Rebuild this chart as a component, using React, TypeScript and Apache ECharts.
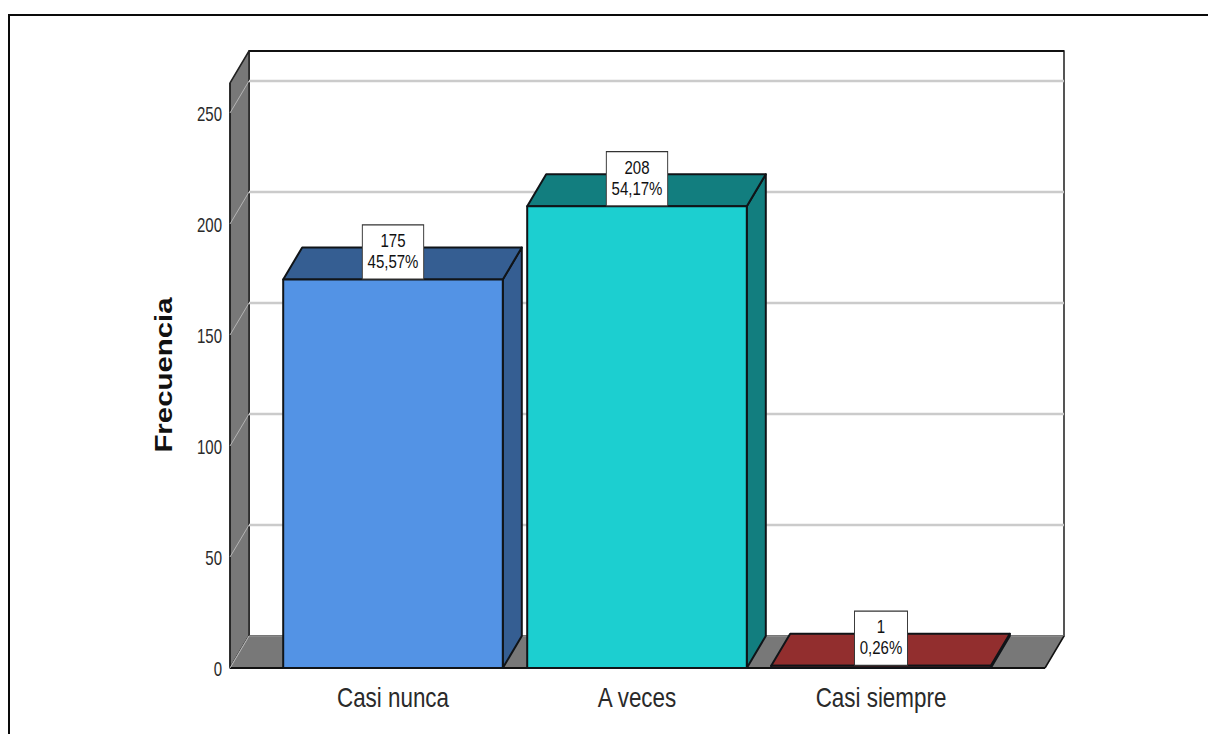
import React, { useEffect, useRef } from "react";
import * as echarts from "echarts";

const categories = ["Casi nunca", "A veces", "Casi siempre"];
const counts = [175, 208, 1];
const percents = [45.57, 54.17, 0.26];
const gridValues = [0, 50, 100, 150, 200, 250];
const valueTitle = "Frecuencia";
const frontColors = ["#5393E5", "#1CCFD0", "#922E2E"];
const shadeColors = ["#355E92", "#127E7F", "#922E2E"];

const SANS = '"Liberation Sans", Arial, sans-serif';
const DEPTH_X = 19;
const DEPTH_Y = -32;
const AXIS_OFFSET = 41;
const FRAME_RIGHT_GAP = 42;
const EDGE = "#101418";

const polygon = (points: number[][], fill: string, stroke = EDGE, lineWidth = 2) => ({
  type: "polygon",
  shape: { points },
  style: { fill, stroke, lineWidth, lineJoin: "round" },
});

const line = (a: number[], b: number[], stroke: string, lineWidth: number) => ({
  type: "line",
  shape: { x1: a[0], y1: a[1], x2: b[0], y2: b[1] },
  style: { stroke, lineWidth, fill: "none" },
});

// Walls and floor of the box that surrounds the columns.
const renderFrame = (params: any) => {
  const c = params.coordSys;
  const left = c.x - AXIS_OFFSET;
  const right = c.x + c.width + FRAME_RIGHT_GAP;
  const top = c.y;
  const bottom = c.y + c.height;
  return {
    type: "group",
    children: [
      polygon(
        [
          [left + DEPTH_X, top + DEPTH_Y],
          [right + DEPTH_X, top + DEPTH_Y],
          [right + DEPTH_X, bottom + DEPTH_Y],
          [left + DEPTH_X, bottom + DEPTH_Y],
        ],
        "#ffffff",
        "#555555",
        2
      ),
      line([left + DEPTH_X, top + DEPTH_Y], [right + DEPTH_X, top + DEPTH_Y], "#111111", 2),
      polygon(
        [
          [left, top],
          [left + DEPTH_X, top + DEPTH_Y],
          [left + DEPTH_X, bottom + DEPTH_Y],
          [left, bottom],
        ],
        "#787878",
        "#222222",
        1.5
      ),
      polygon(
        [
          [left, bottom],
          [left + DEPTH_X, bottom + DEPTH_Y],
          [right + DEPTH_X, bottom + DEPTH_Y],
          [right, bottom],
        ],
        "#787878",
        "#9a9a9a",
        1
      ),
      line([right, bottom], [right + DEPTH_X, bottom + DEPTH_Y], "#111111", 1.5),
      line([left, bottom], [right, bottom], "#111111", 2),
      line([left, top], [left, bottom], "#222222", 1.5),
    ],
  };
};

// One gridline per tick: across the back wall and down the side wall.
const renderGridLine = (params: any, api: any) => {
  const c = params.coordSys;
  const p = api.coord([0, api.value(1)]);
  const left = c.x - AXIS_OFFSET;
  const right = c.x + c.width + FRAME_RIGHT_GAP;
  const isFloor = api.value(1) === 0;
  const children: any[] = [line([left, p[1]], [left + DEPTH_X, p[1] + DEPTH_Y], "#b4b4b4", 1)];
  if (!isFloor) {
    children.push(
      line([left + DEPTH_X, p[1] + DEPTH_Y], [right + DEPTH_X, p[1] + DEPTH_Y], "#cbcbcb", 2.5)
    );
  }
  return { type: "group", children };
};

const renderColumn = (params: any, api: any) => {
  const i = params.dataIndex;
  const base = api.coord([api.value(0), 0]);
  const head = api.coord([api.value(0), api.value(1)]);
  const width = api.size([1, 0])[0] * 0.9;
  const x0 = base[0] - width / 2;
  const x1 = base[0] + width / 2;
  const yTop = head[1];
  const yBase = base[1];
  return {
    type: "group",
    children: [
      polygon(
        [
          [x1, yBase],
          [x1 + DEPTH_X, yBase + DEPTH_Y],
          [x1 + DEPTH_X, yTop + DEPTH_Y],
          [x1, yTop],
        ],
        shadeColors[i]
      ),
      polygon(
        [
          [x0, yTop],
          [x0 + DEPTH_X, yTop + DEPTH_Y],
          [x1 + DEPTH_X, yTop + DEPTH_Y],
          [x1, yTop],
        ],
        shadeColors[i]
      ),
      polygon(
        [
          [x0, yTop],
          [x1, yTop],
          [x1, yBase],
          [x0, yBase],
        ],
        frontColors[i]
      ),
      {
        type: "text",
        x: base[0],
        y: yTop - 1,
        scaleX: 0.79,
        style: {
          x: 0,
          y: 0,
          text: `${counts[i]}\n${percents[i].toFixed(2).replace(".", ",")}%`,
          align: "center",
          verticalAlign: "bottom",
          fontFamily: SANS,
          fontSize: 19,
          lineHeight: 21,
          fill: "#111111",
          backgroundColor: "#ffffff",
          borderColor: "#333333",
          borderWidth: 1.2,
          padding: [5, 6, 6, 6],
        },
      },
    ],
  };
};

// Condensed axis texts: the installed fonts have no narrow cut, so the labels are squeezed.
const renderCategoryLabel = (params: any, api: any) => {
  const p = api.coord([api.value(0), 0]);
  return {
    type: "text",
    x: p[0],
    y: p[1] + 30,
    scaleX: 0.83,
    style: {
      x: 0,
      y: 0,
      text: categories[params.dataIndex],
      align: "center",
      verticalAlign: "middle",
      fontFamily: SANS,
      fontSize: 27,
      fill: "#2a2a2a",
    },
  };
};

const renderTickLabel = (params: any, api: any) => {
  const p = api.coord([0, api.value(1)]);
  return {
    type: "text",
    x: params.coordSys.x - AXIS_OFFSET - 8,
    y: p[1] + 1,
    scaleX: 0.75,
    style: {
      x: 0,
      y: 0,
      text: String(api.value(1)),
      align: "right",
      verticalAlign: "middle",
      fontFamily: SANS,
      fontSize: 20,
      fill: "#2a2a2a",
    },
  };
};

export default function App() {
  const ref = useRef<HTMLDivElement>(null);

  useEffect(() => {
    document.body.style.margin = "0";
    const chart = echarts.init(ref.current!, null, { renderer: "svg" });
    chart.setOption({
      animation: false,
      backgroundColor: "#ffffff",
      graphic: [
        {
          type: "polyline",
          shape: {
            points: [
              [9, 734],
              [9, 15],
              [1208, 15],
            ],
          },
          style: { stroke: "#0a0a0a", lineWidth: 2, fill: "none" },
          silent: true,
        },
        {
          // Vertical title, stretched along its run.
          type: "text",
          x: 164,
          y: 375,
          rotation: Math.PI / 2,
          scaleX: 1.2,
          silent: true,
          style: {
            x: 0,
            y: 0,
            text: valueTitle,
            align: "center",
            verticalAlign: "middle",
            fontFamily: SANS,
            fontWeight: "bold",
            fontSize: 24.5,
            fill: "#111111",
          },
        },
      ],
      grid: { left: 271, top: 83, width: 732, height: 585 },
      xAxis: {
        type: "category",
        data: categories,
        axisLine: { show: false },
        axisTick: { show: false },
        axisLabel: { show: false },
      },
      yAxis: {
        type: "value",
        min: 0,
        max: 263.5,
        interval: 50,
        offset: AXIS_OFFSET,
        axisLine: { show: false },
        axisTick: { show: false },
        splitLine: { show: false },
        axisLabel: { show: false },
      },
      series: [
        {
          type: "custom",
          silent: true,
          z: 1,
          renderItem: renderFrame,
          data: [[0, 0]],
          encode: { x: 0, y: 1 },
        },
        {
          type: "custom",
          silent: true,
          z: 2,
          renderItem: renderGridLine,
          data: gridValues.map((v) => [0, v]),
          encode: { x: 0, y: 1 },
        },
        {
          type: "custom",
          silent: true,
          z: 3,
          renderItem: renderColumn,
          data: counts.map((v, i) => [i, v]),
          encode: { x: 0, y: 1 },
        },
        {
          type: "custom",
          silent: true,
          z: 4,
          renderItem: renderTickLabel,
          data: gridValues.map((v) => [0, v]),
          encode: { x: 0, y: 1 },
        },
        {
          type: "custom",
          silent: true,
          z: 4,
          renderItem: renderCategoryLabel,
          data: categories.map((_, i) => [i, 0]),
          encode: { x: 0, y: 1 },
        },
      ],
    });
    return () => chart.dispose();
  }, []);

  return <div ref={ref} style={{ width: 1208, height: 734 }} />;
}
